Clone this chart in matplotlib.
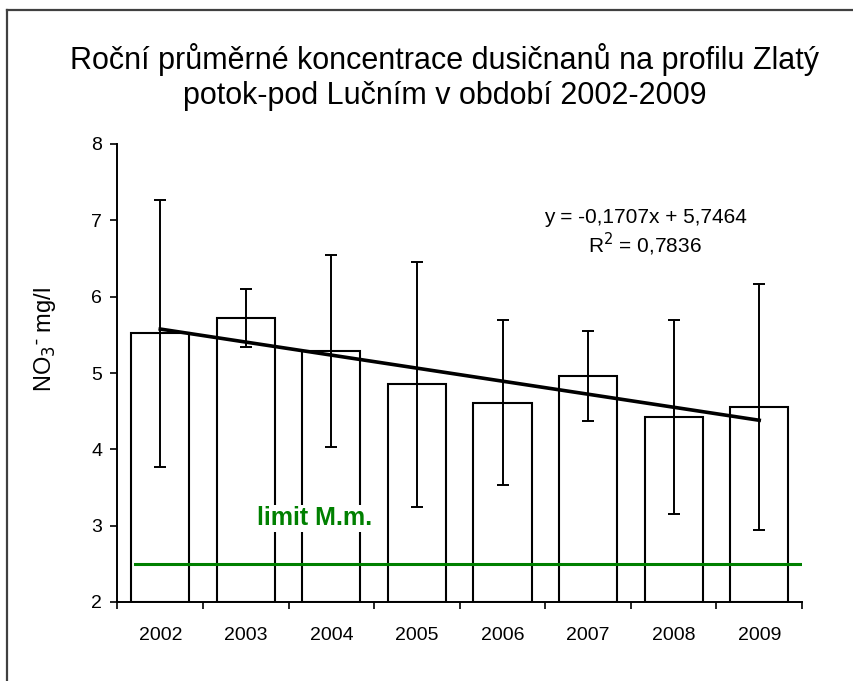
import matplotlib
matplotlib.use("Agg")
import matplotlib.pyplot as plt
from matplotlib.lines import Line2D
import numpy as np

years = ["2002", "2003", "2004", "2005", "2006", "2007", "2008", "2009"]
means = [5.52, 5.72, 5.29, 4.85, 4.61, 4.96, 4.42, 4.55]
sds = [1.75, 0.38, 1.26, 1.61, 1.08, 0.59, 1.27, 1.61]
slope = -0.1707
intercept = 5.7464
r2 = 0.7836
limit_value = 2.5

plt.rcParams['font.family'] = ['Liberation Sans', 'DejaVu Sans']

fig = plt.figure(figsize=(8.54, 6.81), dpi=100)
ax = fig.add_axes([117.5/854, 1-602/681, (802-117.5)/854, (602-144)/681])

x = np.arange(1, len(years) + 1)
ax.bar(x, [m - 2 for m in means], bottom=2, width=0.68, color="white",
       edgecolor="black", linewidth=1.5, zorder=2)
ax.errorbar(x, means, yerr=sds, fmt="none", ecolor="black", elinewidth=1.4,
            capsize=4.5, capthick=1.4, zorder=4)

trend_x = np.array([x[0], x[-1]])
ax.plot(trend_x, slope * trend_x + intercept, color="black", linewidth=2.6, zorder=5)

ax.plot([0.71, 8.5], [limit_value, limit_value], color="#008000", linewidth=2.2, zorder=3)
ax.text(2.80, 3.10, "limit M.m.", color="#008000", fontsize=18, fontweight="bold",
        ha="center", va="center", zorder=6,
        bbox=dict(facecolor="white", edgecolor="none", pad=1))

ax.text(6.67, 7.04, "y = -0,1707x + 5,7464", fontsize=15, ha="center", va="center")
ax.text(6.67, 6.68, "R$^2$ = 0,7836", fontsize=15, ha="center", va="center")

ax.set_xlim(0.5, 8.5)
ax.set_ylim(2, 8)
ax.set_yticks(range(2, 9))
ax.set_xticks(np.arange(0.5, 8.6, 1))
ax.set_xticklabels([])
ax.set_xticks(x, minor=True)
ax.set_xticklabels(years, minor=True, fontsize=14)
ax.tick_params(axis="x", which="minor", length=0, pad=18)
ax.tick_params(axis="x", which="major", length=5, width=1.2, direction="out")
ax.tick_params(axis="y", length=5, width=1.2, direction="out", labelsize=14, pad=6)
for s in ["top", "right"]:
    ax.spines[s].set_visible(False)
for s in ["left", "bottom"]:
    ax.spines[s].set_linewidth(1.4)

fig.text(45/854, 1-340/681, "NO$_3$$^{\\bar{\\ }}$ mg/l", fontsize=17, rotation=90,
         ha="center", va="center")

fig.text(445/854, 1-77/681, "Roční průměrné koncentrace dusičnanů na profilu Zlatý\npotok-pod Lučním v období 2002-2009",
         ha="center", va="center", fontsize=22, linespacing=1.2)

# figure border (left and top visible)
fig.add_artist(Line2D([7.5/854, 7.5/854], [0, 1-10/681], transform=fig.transFigure, color="#404040", linewidth=1.6))
fig.add_artist(Line2D([7.5/854, 1], [1-10/681, 1-10/681], transform=fig.transFigure, color="#404040", linewidth=1.6))

fig.savefig("out.png", dpi=100)
